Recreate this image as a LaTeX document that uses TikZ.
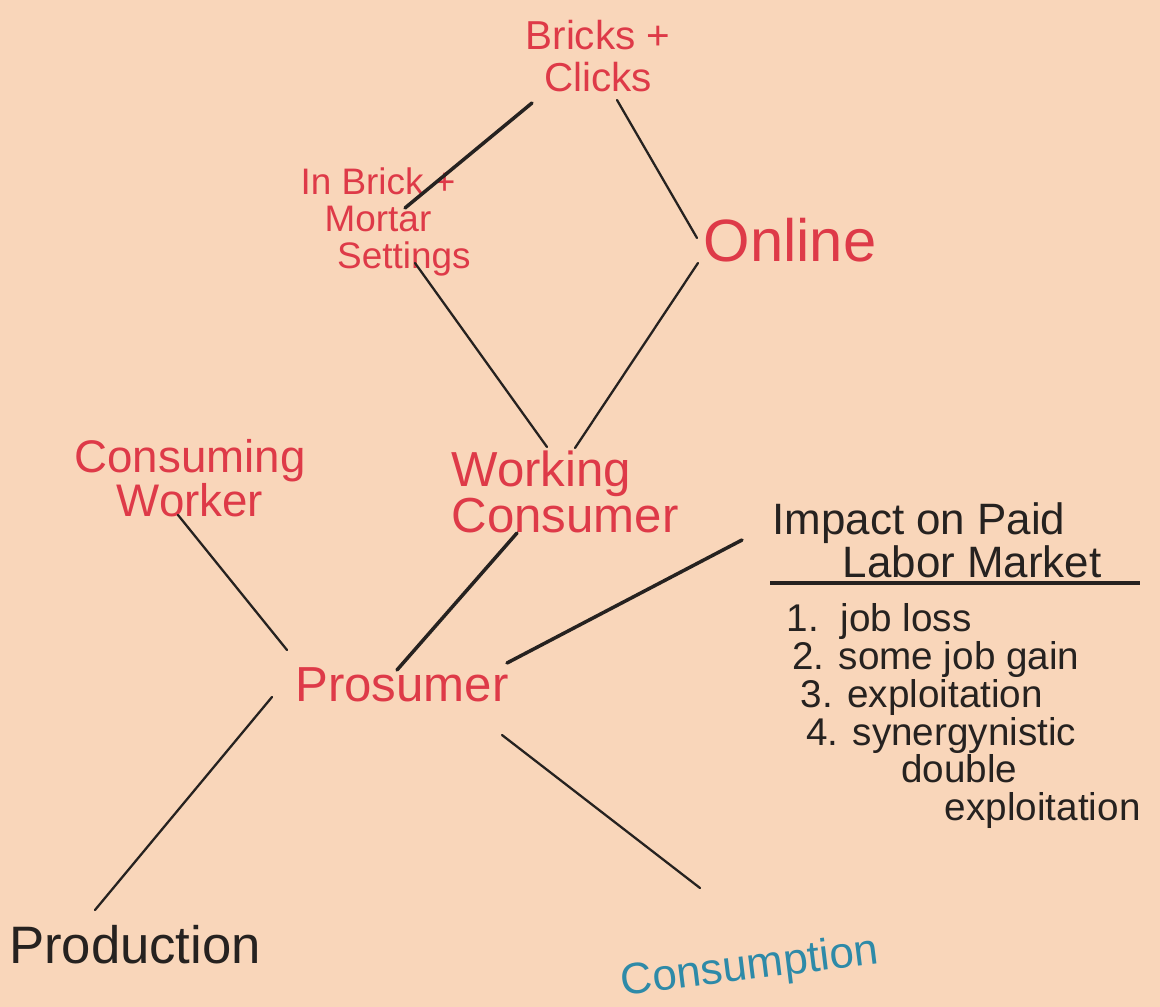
\documentclass[tikz,border=0pt]{standalone}
\usepackage{fontspec}
\setmainfont{Liberation Sans}
\begin{document}
\definecolor{paper}{HTML}{F9D6BA}
\definecolor{crayonred}{HTML}{DE3A48}
\definecolor{crayonblue}{HTML}{2E8AA8}
\definecolor{pencil}{HTML}{262220}
\tikzset{
  redlabel/.style={text=crayonred, align=center, inner sep=2pt},
  inklabel/.style={text=pencil, inner sep=2pt},
  link/.style={draw=pencil, line width=1.3pt, line cap=round},
  heavylink/.style={link, line width=2pt},
}
\begin{tikzpicture}[x=0.02cm,y=-0.02cm]
  % paper
  \fill[paper] (0,0) rectangle (1160,1007);
  \useasboundingbox (0,0) rectangle (1160,1007);

  % labels
  \node[redlabel, font=\fontsize{23}{24}\selectfont] (bc) at (598,56) {Bricks +\\Clicks};
  \node[redlabel, font=\fontsize{21}{21}\selectfont] (ib) at (378,222) {In Brick +\\Mortar\\\hspace*{1.4em}Settings};
  \node[redlabel, font=\fontsize{34}{40}\selectfont] (on) at (790,240) {Online};
  \node[redlabel, font=\fontsize{26}{24}\selectfont] (cw) at (190,478) {Consuming\\Worker};
  \node[redlabel, align=left, font=\fontsize{28}{25}\selectfont] (wc) at (565,492) {Working\\Consumer};
  \node[redlabel, font=\fontsize{28}{32}\selectfont] (pr) at (402,685) {Prosumer};
  \node[inklabel, align=left, font=\fontsize{25}{21}\selectfont] (im) at (937,540)
    {Impact on Paid\\\hspace*{40pt}Labor Market};
  \node[inklabel, align=left, anchor=north west, font=\fontsize{22}{21.5}\selectfont] (ls) at (783,600)
    {1.\ \ job loss\\
     \hspace*{3pt}2. some job gain\\
     \hspace*{8pt}3. exploitation\\
     \hspace*{11pt}4. synergynistic\\
     \hspace*{65pt}double\\
     \hspace*{90pt}exploitation};
  \node[inklabel, font=\fontsize{30}{34}\selectfont] (pd) at (135,945) {Production};
  \node[text=crayonblue, inner sep=2pt, rotate=7, font=\fontsize{25}{30}\selectfont] (cs) at (750,968) {Consumption};

  % rule under the heading
  \draw[pencil, line width=2.2pt] ([shift={(-167,43)}]im.center) -- ([shift={(203,43)}]im.center);

  % connectors
  \draw[heavylink] ([shift={(-66,47)}]bc.center) -- ([shift={(27,-14)}]ib.center);
  \draw[link] ([shift={(19,44)}]bc.center) -- ([shift={(-93,-2)}]on.center);
  \draw[link] ([shift={(-92,23)}]on.center) -- ([shift={(10,-44)}]wc.center);
  \draw[link] ([shift={(37,41)}]ib.center) -- ([shift={(-18,-45)}]wc.center);
  \draw[link] ([shift={(-12,37)}]cw.center) -- ([shift={(-115,-35)}]pr.center);
  \draw[heavylink] ([shift={(-48,41)}]wc.center) -- ([shift={(-5,-15)}]pr.center);
  \draw[heavylink] ([shift={(-195,0)}]im.center) -- ([shift={(105,-22)}]pr.center);
  \draw[link] ([shift={(-130,12)}]pr.center) -- ([shift={(-40,-35)}]pd.center);
  \draw[link] ([shift={(100,50)}]pr.center) -- ([shift={(-50,-80)}]cs.center);
\end{tikzpicture}
\end{document}
